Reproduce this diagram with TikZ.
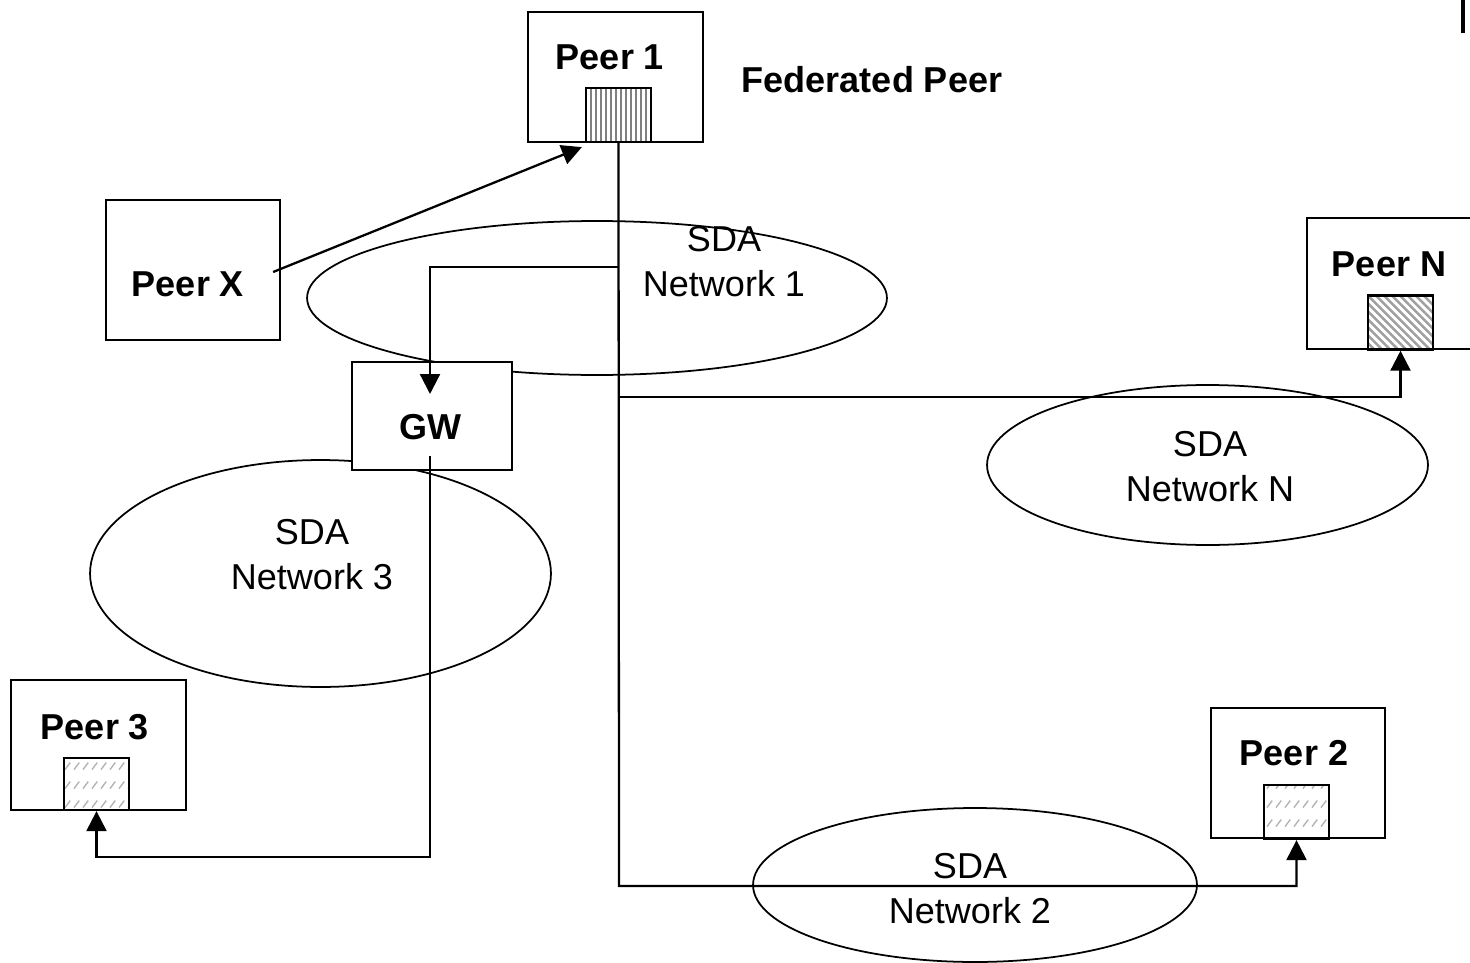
\documentclass[tikz,border=0pt]{standalone}
\usepackage{fontspec}
\setmainfont{Liberation Sans}
\usetikzlibrary{arrows.meta,patterns.meta,shapes.geometric}

% short diagonal dashes in rows
\pgfdeclarepattern{
  name=dashdiag,
  type=uncolored,
  bottom left={\pgfpoint{0pt}{0pt}},
  top right={\pgfpoint{5.3pt}{10.8pt}},
  tile size={\pgfpoint{5.3pt}{10.8pt}},
  code={
    \pgfsetlinewidth{0.8pt}
    \pgfpathmoveto{\pgfpoint{0.6pt}{2.5pt}}
    \pgfpathlineto{\pgfpoint{3.8pt}{6.5pt}}
    \pgfusepath{stroke}
  }
}

\tikzset{
  box/.style={draw, fill=white, line width=1.3pt, inner sep=0pt},
  hatchbox/.style={draw, line width=1.3pt, inner sep=0pt,
    minimum width=1.3cm, minimum height=1.08cm},
  vstripes/.style={hatchbox, pattern={Lines[angle=90,distance=2.85pt,line width=1.3pt]}, pattern color=gray},
  dstripes/.style={hatchbox, pattern={Lines[angle=-45,distance=3.2pt,line width=1.4pt]}, pattern color=gray!75},
  dashes/.style={hatchbox, pattern=dashdiag, pattern color=gray!60},
  cloud/.style={draw, ellipse, line width=1pt, inner sep=0pt},
  lbl/.style={font=\fontsize{20.5}{25.6}\selectfont\bfseries},
  txt/.style={font=\fontsize{20.5}{25.6}\selectfont, align=center},
  wire/.style={line width=1.3pt},
  arr/.style={wire, -{Triangle[length=0.4cm,width=0.4cm]}}
}

\begin{document}
\begin{tikzpicture}[x=0.02cm,y=-0.02cm]
\useasboundingbox (0,0) rectangle (1470,963);

% networks
\node[cloud, minimum width=11.6cm, minimum height=3.08cm] (n1) at (597,298) {};
\node[cloud, minimum width=8.82cm, minimum height=3.2cm] (nN) at (1207.5,465) {};
\node[cloud, minimum width=9.22cm, minimum height=4.54cm] (n3) at (320.5,573.5) {};
\node[cloud, minimum width=8.88cm, minimum height=3.08cm] (n2) at (975,885) {};

\node[txt] (n1t) at (724,262) {SDA\\Network 1};
\node[txt] (nNt) at (1210,467) {SDA\\Network N};
\node[txt] (n3t) at (312,555) {SDA\\Network 3};
\node[txt] (n2t) at (970,889) {SDA\\Network 2};

% peers
\node[box, minimum width=3.5cm, minimum height=2.6cm] (p1) at (615.5,77) {};
\node[lbl] (p1t) at (610,57) {Peer 1};
\node[vstripes] (p1h) at (618.5,115) {};
\node[lbl] (fed) at (872,80) {Federated Peer};

\node[box, minimum width=3.48cm, minimum height=2.8cm] (px) at (193,270) {};
\node[lbl] (pxt) at (188,284) {Peer X};

\node[box, minimum width=3.36cm, minimum height=2.62cm] (pN) at (1391,283.5) {};
\node[lbl] (pNt) at (1389,264) {Peer N};
\node[dstripes] (pNh) at (1400.5,322.5) {};

\node[box, minimum width=3.2cm, minimum height=2.16cm] (gw) at (432,416) {};
\node[lbl] (gwt) at (430,427) {GW};

\node[box, minimum width=3.5cm, minimum height=2.6cm] (p3) at (98.5,745) {};
\node[lbl] (p3t) at (95,727) {Peer 3};
\node[dashes, minimum height=1.04cm] (p3h) at (96.5,784) {};

\node[box, minimum width=3.48cm, minimum height=2.6cm] (p2) at (1298,773) {};
\node[lbl] (p2t) at (1294,753) {Peer 2};
\node[dashes] (p2h) at (1296.5,812) {};

% connection points
\coordinate (bus2) at (619,886);
\coordinate (busN) at (619,397);
\coordinate (busG) at (619,267);
\coordinate (gwin) at (430,394);
\coordinate (gwout) at (430,456);
\coordinate (c3) at (430,857);

% connectors
\draw[arr] ([xshift=-0.16cm,yshift=-0.04cm]px.east) -- ([shift={(-3,4)}]p1h.south west);
\draw[arr] (p1h.south) -- (bus2) -| (p2h.south);
\draw[arr] (busN) -| (pNh.south);
\draw[arr] (busG) -| (gwin);
\draw[arr] (gwout) -- (c3) -| (p3h.south);

% mark at the top edge
\draw[line width=1.8pt] (1463,0) -- (1463,33);
\end{tikzpicture}
\end{document}
